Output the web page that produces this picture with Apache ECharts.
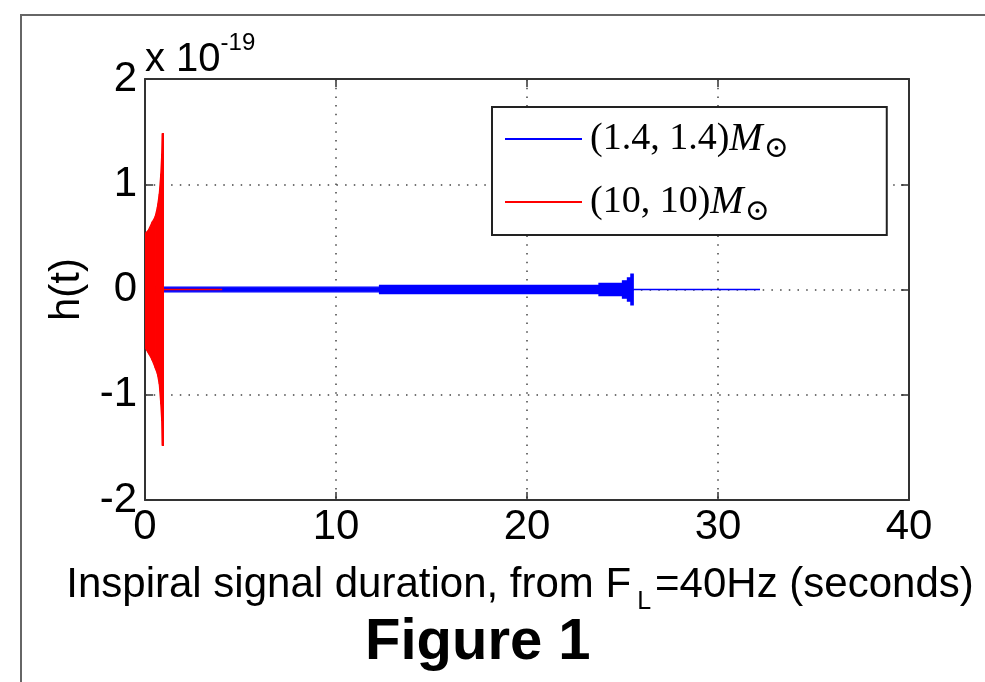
<!DOCTYPE html>
<html><head><meta charset="utf-8">
<script src="https://cdn.jsdelivr.net/npm/echarts@6/dist/echarts.min.js"></script>
<style>
html,body{margin:0;padding:0;background:#fff;}
#chart{position:absolute;left:0;top:0;width:985px;height:682px;}
#frame{position:absolute;left:20px;top:14px;width:980px;height:690px;border-top:2px solid #666;border-left:2px solid #666;pointer-events:none;}
</style></head><body>
<div id="chart"></div><div id="frame"></div>
<script>
// ---- data ----
const xTickLabels = ['0', '10', '20', '30', '40'];
const yTickLabels = ['-2', '-1', '0', '1', '2'];
const seriesNames = ['(1.4, 1.4)M⊙', '(10, 10)M⊙'];
const legendMass = ['(1.4, 1.4)', '(10, 10)'];
// (1.4,1.4) solar-mass inspiral: stepwise envelope of h(t) (x 1e-19), segments in seconds
const blueSegStart = [0, 12.28, 23.77, 25.0, 25.26, 25.44, 25.56];
const blueSegEnd   = [12.28, 23.77, 25.0, 25.26, 25.44, 25.56, 32.2];
const blueAmp      = [0.022, 0.040, 0.057, 0.082, 0.11, 0.145, 0];
// (10,10) solar-mass inspiral envelope
const redTime  = [0, 0.17, 0.35, 0.53, 0.65, 0.75, 0.83, 0.88, 0.91, 0.96, 0.96, 4.04];
const redUpper = [0.53, 0.56, 0.63, 0.69, 0.78, 0.91, 1.10, 1.29, 1.48, 1.48, 0, 0];
const redLower = [-0.55, -0.60, -0.66, -0.74, -0.80, -0.90, -1.09, -1.25, -1.48, -1.48, 0, 0];

const BLUE = '#0000ff', RED = '#ff0000';
const FONT = '"Liberation Sans", Arial, Helvetica, sans-serif';
const SERIF = '"Liberation Serif", "DejaVu Serif", serif';

// blue: one band [start, end, +amp, -amp] per segment
const blueData = blueSegStart.map((s, i) => [s, blueSegEnd[i], blueAmp[i], -blueAmp[i]]);
// red: one band piece [t0, t1, up0, up1, lo0, lo1] between consecutive envelope points
const redData = [];
for (let i = 0; i < redTime.length - 1; i++) {
  redData.push([redTime[i], redTime[i + 1], redUpper[i], redUpper[i + 1], redLower[i], redLower[i + 1]]);
}

const chart = echarts.init(document.getElementById('chart'), null, {renderer: 'canvas'});

function bandSeries(name, data, color, z, isRect) {
  return {
    name: name, type: 'custom', data: data, z: z,
    xAxisIndex: 0, yAxisIndex: 0,
    color: color, itemStyle: {color: color},
    encode: isRect ? {x: [0, 1], y: [2, 3]} : {x: [0, 1], y: [2, 3, 4, 5]},
    clip: true,
    renderItem: function (params, api) {
      let pts;
      if (isRect) {
        pts = [
          api.coord([api.value(0), api.value(2)]),
          api.coord([api.value(1), api.value(2)]),
          api.coord([api.value(1), api.value(3)]),
          api.coord([api.value(0), api.value(3)])
        ];
      } else {
        pts = [
          api.coord([api.value(0), api.value(2)]),
          api.coord([api.value(1), api.value(3)]),
          api.coord([api.value(1), api.value(5)]),
          api.coord([api.value(0), api.value(4)])
        ];
      }
      return {
        type: 'polygon', shape: {points: pts},
        style: {fill: color, stroke: color, lineWidth: 1.3}
      };
    },
    emphasis: {disabled: true}
  };
}

const axisLineStyle = {color: '#333', width: 2};
const dotted = {color: '#444', width: 1.5, type: [1.5, 7.2]};

chart.setOption({
  animation: false,
  backgroundColor: 'transparent',
  textStyle: {fontFamily: FONT},
  title: {
    text: 'Figure 1', left: 360, top: 609,
    textStyle: {fontFamily: FONT, fontSize: 58, fontWeight: 'bold', color: '#000'}
  },
  grid: {left: 145, top: 79, right: 76, bottom: 182, containLabel: false},
  legend: {
    orient: 'vertical', left: 492, top: 107,
    data: seriesNames,
    icon: 'rect', itemWidth: 77, itemHeight: 2, itemGap: 18,
    padding: [12, 98, 8, 13],
    borderColor: '#222', borderWidth: 2, backgroundColor: '#fff',
    selectedMode: false,
    formatter: function (n) {
      const i = seriesNames.indexOf(n);
      return '{a|' + legendMass[i] + '}{m|M}{s|⊙}';
    },
    textStyle: {
      color: '#000',
      rich: {
        a: {fontFamily: SERIF, fontSize: 38, lineHeight: 50, color: '#000', padding: [0, 0, 0, 3]},
        m: {fontFamily: SERIF, fontSize: 40, fontStyle: 'italic', lineHeight: 50, color: '#000'},
        s: {fontFamily: '"DejaVu Serif", serif', fontSize: 30, color: '#000', padding: [20, 0, 0, 1]}
      }
    }
  },
  xAxis: [{
    type: 'value', position: 'bottom', min: 0, max: 40, interval: 10,
    axisLine: {show: true, onZero: false, lineStyle: axisLineStyle},
    axisTick: {show: true, inside: true, length: 8, lineStyle: {color: '#333', width: 1.5}},
    axisLabel: {show: true, fontSize: 42, color: '#000', fontFamily: FONT, margin: 6,
      formatter: v => xTickLabels[Math.round(v / 10)]},
    splitLine: {show: true, lineStyle: dotted},
    name: '{n|Inspiral signal duration, from F}{sub|L}{n|=40Hz (seconds)}',
    nameLocation: 'middle', nameGap: 56,
    nameTextStyle: {
      padding: [0, 14, 0, 0],
      rich: {
        n: {fontFamily: FONT, fontSize: 42, color: '#000', lineHeight: 48},
        sub: {fontFamily: FONT, fontSize: 25, color: '#000', padding: [34, 4, 0, 6]}
      }
    }
  }, {
    type: 'value', position: 'top', min: 0, max: 40, interval: 10,
    axisLine: {show: true, onZero: false, lineStyle: axisLineStyle},
    axisTick: {show: true, inside: true, length: 8, lineStyle: {color: '#333', width: 1.5}},
    axisLabel: {show: false}, splitLine: {show: false}
  }],
  yAxis: [{
    type: 'value', position: 'left', min: -2, max: 2, interval: 1,
    axisLine: {show: true, onZero: false, lineStyle: axisLineStyle},
    axisTick: {show: true, inside: true, length: 8, lineStyle: {color: '#333', width: 1.5}},
    axisLabel: {show: true, fontSize: 42, color: '#000', fontFamily: FONT, margin: 8,
      formatter: v => yTickLabels[Math.round(v) + 2]},
    splitLine: {show: true, lineStyle: dotted},
    name: 'h(t)', nameLocation: 'middle', nameGap: 52,
    nameTextStyle: {fontFamily: FONT, fontSize: 42, color: '#000'}
  }, {
    type: 'value', position: 'right', min: -2, max: 2, interval: 1,
    axisLine: {show: true, onZero: false, lineStyle: axisLineStyle},
    axisTick: {show: true, inside: true, length: 8, lineStyle: {color: '#333', width: 1.5}},
    axisLabel: {show: false}, splitLine: {show: false}
  }, {
    type: 'value', position: 'left', min: -2, max: 2, interval: 1,
    axisLine: {show: false}, axisTick: {show: false}, axisLabel: {show: false}, splitLine: {show: false},
    name: '{a|x 10}{b|-19}', nameLocation: 'end', nameGap: -10,
    nameTextStyle: {
      align: 'left',
      rich: {
        a: {fontFamily: FONT, fontSize: 40, color: '#000', lineHeight: 58},
        b: {fontFamily: FONT, fontSize: 24, color: '#000', padding: [0, 0, 34, 0]}
      }
    }
  }],
  series: [
    bandSeries(seriesNames[0], blueData, BLUE, 2, true),
    bandSeries(seriesNames[1], redData, RED, 3, false)
  ]
});
</script>
</body></html>
